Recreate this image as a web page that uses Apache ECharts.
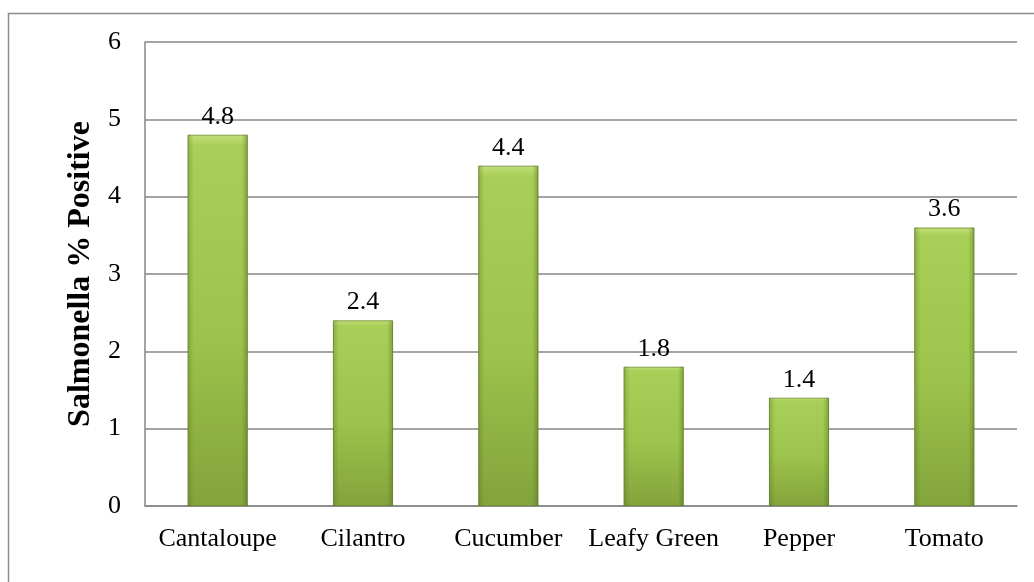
<!DOCTYPE html>
<html>
<head>
<meta charset="utf-8">
<script src="https://cdn.jsdelivr.net/npm/echarts@6/dist/echarts.min.js"></script>
<style>
  html, body { margin: 0; padding: 0; background: #fff; }
  #chart { width: 1034px; height: 582px; }
</style>
</head>
<body>
<div id="chart"></div>
<script>
// Produce items and the share of samples testing positive for Salmonella
const categories = ['Cantaloupe', 'Cilantro', 'Cucumber', 'Leafy Green', 'Pepper', 'Tomato'];
const positivePct = [4.8, 2.4, 4.4, 1.8, 1.4, 3.6];
const yTicks = { min: 0, max: 6, interval: 1 };
const yTitle = 'Salmonella % Positive';

const serif = '"Liberation Serif", "Times New Roman", serif';
const chart = echarts.init(document.getElementById('chart'));

chart.setOption({
  animation: false,
  backgroundColor: '#fff',
  graphic: [{
    type: 'rect',
    shape: { x: 8.5, y: 13.5, width: 1100, height: 700 },
    style: { fill: 'none', stroke: '#8c8c8c', lineWidth: 1.5 },
    silent: true
  }],
  grid: { left: 145, right: 17, top: 42, bottom: 76 },
  xAxis: {
    type: 'category',
    data: categories,
    axisLine: { show: true, lineStyle: { color: '#868686', width: 1.5 } },
    axisTick: { show: false },
    axisLabel: { color: '#000', fontFamily: serif, fontSize: 26, margin: 20, interval: 0 }
  },
  yAxis: {
    type: 'value',
    min: yTicks.min,
    max: yTicks.max,
    interval: yTicks.interval,
    name: yTitle,
    nameLocation: 'middle',
    nameGap: 47,
    nameTextStyle: { color: '#000', fontFamily: serif, fontSize: 32, fontWeight: 'bold' },
    axisLine: { show: true, lineStyle: { color: '#868686', width: 1.5 } },
    axisTick: { show: false },
    splitLine: { show: true, lineStyle: { color: '#868686', width: 1.5 } },
    axisLabel: { color: '#000', fontFamily: serif, fontSize: 26, margin: 24 }
  },
  series: [
    {
      // main bar body with a light-to-olive vertical shade
      type: 'bar',
      data: positivePct,
      barWidth: 60,
      itemStyle: {
        color: new echarts.graphic.LinearGradient(0, 0, 0, 1, [
          { offset: 0, color: '#c2df7a' },
          { offset: 0.03, color: '#a8cf57' },
          { offset: 0.55, color: '#9cc34b' },
          { offset: 1, color: '#83a33c' }
        ]),
        borderColor: '#6a8a2c',
        borderWidth: 0.8
      },
      label: {
        show: true,
        position: 'top',
        distance: 5,
        color: '#000',
        fontFamily: serif,
        fontSize: 26,
        formatter: p => p.value.toFixed(1)
      },
      z: 2
    },
    {
      // bevelled side edges laid over the same bars
      type: 'bar',
      data: positivePct,
      barWidth: 60,
      barGap: '-100%',
      silent: true,
      itemStyle: {
        color: new echarts.graphic.LinearGradient(0, 0, 1, 0, [
          { offset: 0, color: 'rgba(70,95,20,0.3)' },
          { offset: 0.1, color: 'rgba(70,95,20,0)' },
          { offset: 0.9, color: 'rgba(70,95,20,0)' },
          { offset: 1, color: 'rgba(70,95,20,0.4)' }
        ])
      },
      label: { show: false },
      z: 3
    }
  ]
});
</script>
</body>
</html>
